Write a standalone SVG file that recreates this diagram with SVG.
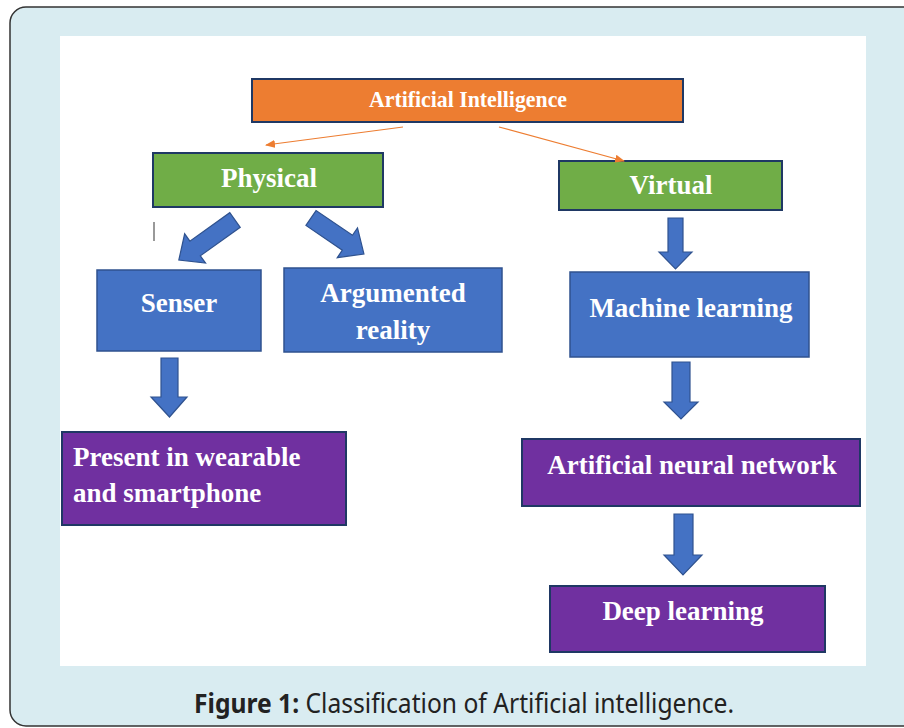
<svg xmlns="http://www.w3.org/2000/svg" width="904" height="728" viewBox="0 0 904 728">
<defs>
<marker id="oa" markerWidth="10" markerHeight="8" refX="9" refY="4" orient="auto" markerUnits="userSpaceOnUse">
<path d="M0,0 L10,4 L0,8 Z" fill="#ED7D31"/>
</marker>
<style>
.lbl{font-family:"Liberation Serif","Times New Roman",serif;font-weight:bold;fill:#ffffff;font-size:27px}
.c{text-anchor:middle}
.org{fill:#ED7D31;stroke:#1F3864;stroke-width:2}
.grn{fill:#70AD47;stroke:#1F3864;stroke-width:2}
.blu{fill:#4472C4;stroke:#2F528F;stroke-width:1.5}
.pur{fill:#7030A0;stroke:#1F3864;stroke-width:2}
.barr{fill:#4472C4;stroke:#2F528F;stroke-width:1.2}
.thin{stroke:#ED7D31;stroke-width:1.2;fill:none}
</style>
</defs>
<rect x="10" y="7" width="930" height="719" rx="16" fill="#d9ecf1" stroke="#333333" stroke-width="1.5"/>
<rect x="60" y="36" width="806" height="630" fill="#ffffff"/>
<line x1="154" y1="222" x2="154" y2="241" stroke="#777777" stroke-width="1.5"/>

<g id="ai"><rect class="org" x="252" y="79" width="431" height="43"/><text class="lbl c" x="468" y="107" style="font-size:23px" textLength="198" lengthAdjust="spacingAndGlyphs">Artificial Intelligence</text></g>
<g id="physical"><rect class="grn" x="153" y="153" width="230" height="54"/><text class="lbl c" x="269" y="187">Physical</text></g>
<g id="virtual"><rect class="grn" x="559" y="161" width="223" height="49"/><text class="lbl c" x="671" y="194">Virtual</text></g>
<g id="senser"><rect class="blu" x="97" y="270" width="164" height="81"/><text class="lbl c" x="179" y="312">Senser</text></g>
<g id="ar"><rect class="blu" x="284" y="268" width="218" height="84"/><text class="lbl c" x="393" y="302">Argumented</text><text class="lbl c" x="393" y="339">reality</text></g>
<g id="ml"><rect class="blu" x="570" y="272" width="239" height="85"/><text class="lbl c" x="691" y="317">Machine learning</text></g>
<g id="present"><rect class="pur" x="62" y="432" width="284" height="93"/><text class="lbl" x="73" y="466">Present in wearable</text><text class="lbl" x="73" y="502">and smartphone</text></g>
<g id="ann"><rect class="pur" x="522" y="439" width="338" height="67"/><text class="lbl c" x="692" y="474">Artificial neural network</text></g>
<g id="dl"><rect class="pur" x="550" y="586" width="275" height="66"/><text class="lbl c" x="683" y="620">Deep learning</text></g>

<g id="connectors">
<line class="thin" x1="403" y1="127" x2="266" y2="145" marker-end="url(#oa)"/>
<line class="thin" x1="499" y1="127" x2="624" y2="161" marker-end="url(#oa)"/>
<polygon class="barr" transform="translate(235,220) rotate(54.5)" points="-9,0 9,0 9,49 18,49 0,69 -18,49 -9,49"/>
<polygon class="barr" transform="translate(311,218) rotate(-55.8)" points="-9,0 9,0 9,44 18,44 0,64 -18,44 -9,44"/>
<polygon class="barr" points="668,218 683,218 683,252 692,252 675.5,269 659,252 668,252"/>
<polygon class="barr" points="161,358 178,358 178,397 187,397 169.5,417 151,397 161,397"/>
<polygon class="barr" points="672,362 690,362 690,402 698,402 681,419 664,402 672,402"/>
<polygon class="barr" points="674,514 693,514 693,555 702,555 683,575 664,555 674,555"/>
</g>

<text x="464" y="713" text-anchor="middle" font-family="'Noto Sans','Open Sans',sans-serif" font-size="27" fill="#222222" textLength="540" lengthAdjust="spacingAndGlyphs"><tspan font-weight="bold">Figure 1:</tspan> Classification of Artificial intelligence.</text>
</svg>
